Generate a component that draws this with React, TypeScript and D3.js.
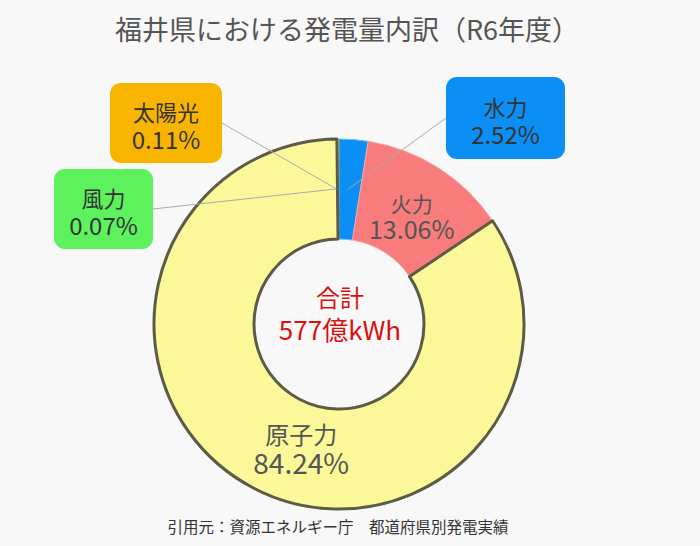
import React from 'react';
import * as d3 from 'd3';

const title = '福井県における発電量内訳（R6年度）';
const footer = '引用元：資源エネルギー庁　都道府県別発電実績';
const totalLabel = '合計';
const totalValue = '577億kWh';

const categories = ['水力', '火力', '原子力', '風力', '太陽光'];
const shares = [2.52, 13.06, 84.24, 0.07, 0.11];
const fills = ['#0b8ff5', '#f87c7c', '#fbf89a', '#5df25d', '#f8b500'];
const strokes = ['#6ab8f7', '#f9a5a5', '#5d5b45', 'none', 'none'];
const strokeWidths = [1, 1, 3, 0, 0];

// layout of labels (not data)
const boxed: Record<string, { cx: number; cy: number; w: number; h: number; side: 'left' | 'right' }> = {
  '水力': { cx: 505.5, cy: 118, w: 119, h: 82, side: 'left' },
  '太陽光': { cx: 166, cy: 123, w: 112, h: 80, side: 'right' },
  '風力': { cx: 103.5, cy: 209, w: 99, h: 80, side: 'right' },
};
const inlineOffsets: Record<string, { dx: number; dy: number; size: number; numSize: number }> = {
  '火力': { dx: 0, dy: 5, size: 21, numSize: 25 },
  '原子力': { dx: 25, dy: 4, size: 24, numSize: 28 },
};

const W = 700;
const H = 546;
const cx = 339;
const cy = 324;
const rOuter = 185;
const rInner = 85;
const FONT = '"Noto Sans CJK JP", "Noto Sans", sans-serif';

export default function App() {
  const data = categories.map((c, i) => ({ name: c, value: shares[i], i }));
  const pie = d3.pie<any>().value((d) => d.value).sort(null).startAngle(0).endAngle(2 * Math.PI);
  const arcs = pie(data);
  const arc = d3.arc<any>().innerRadius(rInner).outerRadius(rOuter);
  const fmt = (v: number) => v.toFixed(2) + '%';

  // draw order: nuclear stroke on top
  const order = [0, 1, 3, 4, 2];

  return (
    <svg
      width={W}
      height={H}
      style={{ position: 'absolute', left: 0, top: 0, background: '#f8f8f8' }}
    >
      <rect x={0} y={0} width={W} height={H} fill="#f8f8f8" />
      <text
        x={347}
        y={28}
        textAnchor="middle"
        dominantBaseline="central"
        fontFamily={FONT}
        fontSize={27}
        fill="#555"
      >
        {title}
      </text>
      <g transform={`translate(${cx},${cy})`}>
        {order.map((k) => (
          <path
            key={k}
            d={arc(arcs[k]) as string}
            fill={fills[k]}
            stroke={strokes[k]}
            strokeWidth={strokeWidths[k]}
            strokeLinejoin="round"
          />
        ))}
      </g>
      {arcs.map((a) => {
        const name = a.data.name;
        const [px, py] = arc.centroid(a);
        const b = boxed[name];
        if (b) {
          const ex = b.side === 'left' ? b.cx - b.w / 2 : b.cx + b.w / 2;
          return (
            <g key={name}>
              <line x1={ex} y1={b.cy} x2={cx + px - 2} y2={cy + py} stroke="#aaa" strokeWidth={1} />
              <rect
                x={b.cx - b.w / 2}
                y={b.cy - b.h / 2}
                width={b.w}
                height={b.h}
                rx={11}
                fill={fills[a.data.i]}
              />
              <text x={b.cx} y={b.cy - 12} textAnchor="middle" dominantBaseline="central" fontFamily={FONT} fontSize={22} fill="#333">
                {name}
              </text>
              <text x={b.cx} y={b.cy + 15} textAnchor="middle" dominantBaseline="central" fontFamily={FONT} fontSize={24} fill="#333">
                {fmt(a.data.value)}
              </text>
            </g>
          );
        }
        const o = inlineOffsets[name];
        if (!o) return null;
        const lx = cx + px + o.dx;
        const ly = cy + py + o.dy;
        const gap = o.size * 0.6;
        return (
          <g key={name}>
            <text x={lx} y={ly - gap} textAnchor="middle" dominantBaseline="central" fontFamily={FONT} fontSize={o.size} fill="#555">
              {name}
            </text>
            <text x={lx} y={ly + gap} textAnchor="middle" dominantBaseline="central" fontFamily={FONT} fontSize={o.numSize} fill="#555">
              {fmt(a.data.value)}
            </text>
          </g>
        );
      })}
      <text x={cx + 1} y={cy - 28} textAnchor="middle" dominantBaseline="central" fontFamily={FONT} fontSize={24} fill="#d81010">
        {totalLabel}
      </text>
      <text x={cx + 1} y={cy + 4} textAnchor="middle" dominantBaseline="central" fontFamily={FONT} fontSize={26} fill="#d81010">
        {totalValue}
      </text>
      <text x={338} y={526} textAnchor="middle" dominantBaseline="central" fontFamily={FONT} fontSize={15.5} fill="#333">
        {footer}
      </text>
    </svg>
  );
}
